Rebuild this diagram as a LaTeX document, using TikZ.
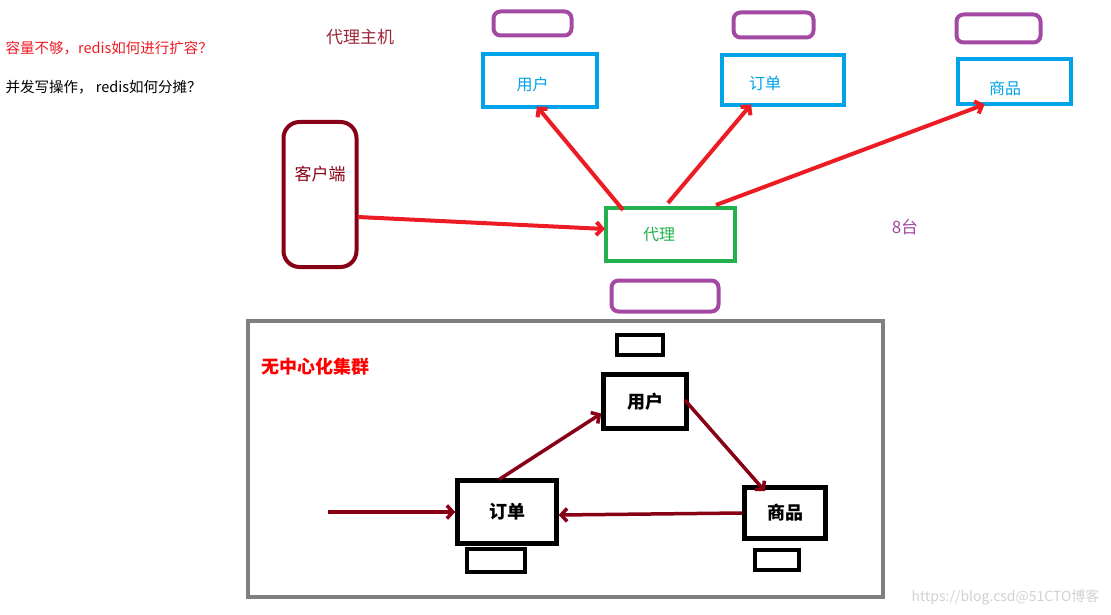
\documentclass[tikz,border=0pt]{standalone}
\usepackage{fontspec}
\setmainfont{Noto Sans CJK SC}
\usetikzlibrary{arrows.meta,positioning}

\definecolor{hotred}{HTML}{ED1C24}
\definecolor{wine}{HTML}{880015}
\definecolor{skyblue}{HTML}{00A2E8}
\definecolor{leafgreen}{HTML}{22B14C}
\definecolor{violet}{HTML}{A349A4}
\definecolor{frame}{HTML}{7F7F7F}

\tikzset{
	server/.style={draw=skyblue, line width=4pt, text=skyblue, font=\fontsize{16}{18}\selectfont},
	slave/.style={draw=violet, line width=4pt, rounded corners=7pt},
	peer/.style={draw=black, line width=4.5pt, font=\bfseries\fontsize{18}{20}\selectfont},
	tag/.style={draw=black, line width=3.8pt},
	route/.style={hotred, line width=4pt, -{Straight Barb[length=6pt,width=13pt]}},
	ring/.style={wine, line width=3.5pt, -{Straight Barb[length=6pt,width=13pt]}}
}
\newcommand{\offtext}[3]{\raisebox{#2}[0pt][0pt]{\hspace*{#1}#3}}

\begin{document}
\begin{tikzpicture}[x=1pt, y=-1pt]
	\useasboundingbox (0,0) rectangle (1111,615);

	% notes
	\node[anchor=west, text=hotred, font=\fontsize{14.5}{16}\selectfont] (q1) at (2,48) {容量不够，redis如何进行扩容？};
	\node[anchor=west, font=\fontsize{14.5}{16}\selectfont] (q2) at (2,87) {并发写操作， redis如何分摊？};
	\node[text=wine!85, font=\fontsize{17}{19}\selectfont] (host) at (360,37) {代理主机};
	\node[text=violet, font=\fontsize{17}{19}\selectfont] (count) at (905,227) {8台};

	% proxy cluster
	\node[server, minimum width=114pt, minimum height=53pt] (u) at (539.5,81) {\offtext{-14pt}{-10pt}{用户}};
	\node[server, minimum width=122pt, minimum height=50pt] (o) at (782.5,80.5) {\offtext{-35pt}{-9.5pt}{订单}};
	\node[server, minimum width=113pt, minimum height=45pt] (g) at (1014,82) {\offtext{-18pt}{-13pt}{商品}};
	\node[slave, minimum width=78pt, minimum height=24pt] (us) at (532.5,23.5) {};
	\node[slave, minimum width=80pt, minimum height=25pt] (os) at (773.5,25) {};
	\node[slave, minimum width=84pt, minimum height=28pt] (gs) at (998.5,28.5) {};

	\node[draw=wine, line width=4pt, rounded corners=16pt, minimum width=73pt, minimum height=145pt,
		text=wine, font=\fontsize{17}{19}\selectfont] (c) at (320,194.5) {\offtext{0pt}{14pt}{客户端}};
	\node[draw=leafgreen, line width=4pt, minimum width=129pt, minimum height=53pt,
		text=leafgreen, font=\fontsize{16}{18}\selectfont] (p) at (670,234) {\offtext{-22pt}{-6pt}{代理}};
	\node[slave, minimum width=107pt, minimum height=31pt] (ps) at (665,296) {};

	\coordinate (c1) at (358,217);
	\coordinate (p0) at (605,229);
	\coordinate (p1) at (623,210);
	\coordinate (p2) at (668,203);
	\coordinate (p3) at (716,205);
	\draw[route] (c1) -- (p0);
	\draw[route, shorten >=-4pt] (p1) -- (u.south);
	\draw[route, shorten >=-4pt] (p2) -- ([xshift=-34pt]o.south);
	\draw[route, shorten >=-6pt] (p3) -- ([xshift=-35pt]g.south);

	% decentralised cluster
	\draw[frame, line width=4pt] (248,321) rectangle (883,597);
	\node[anchor=west, text=red, font=\bfseries\fontsize{18}{20}\selectfont] (title) at (258,367) {无中心化集群};

	\node[peer, minimum width=83pt, minimum height=54pt] (nu) at (645,401.5) {用户};
	\node[peer, minimum width=99pt, minimum height=63pt] (no) at (507,512) {订单};
	\node[peer, minimum width=81pt, minimum height=51pt] (ng) at (785,513) {商品};
	\node[tag, minimum width=46pt, minimum height=20pt] (nut) at (640,345) {};
	\node[tag, minimum width=58pt, minimum height=23pt] (not) at (496,560.5) {};
	\node[tag, minimum width=44pt, minimum height=20pt] (ngt) at (777,560) {};

	\coordinate (in) at (328,512);
	\draw[ring] (in) -- (no.west);
	\draw[ring, shorten <=-2pt] ([xshift=-6pt]no.north) -- ([yshift=-12pt]nu.west);
	\draw[ring, shorten <=-6pt] ([yshift=-3pt]nu.east) -- ([xshift=-20pt, yshift=-6pt]ng.north);
	\draw[ring] (ng.west) -- ([yshift=-3pt]no.east);

	\node[anchor=east, text=black!18, font=\fontsize{14}{16}\selectfont] (mark) at (1103,597) {https://blog.csd@51CTO博客};
\end{tikzpicture}
\end{document}
